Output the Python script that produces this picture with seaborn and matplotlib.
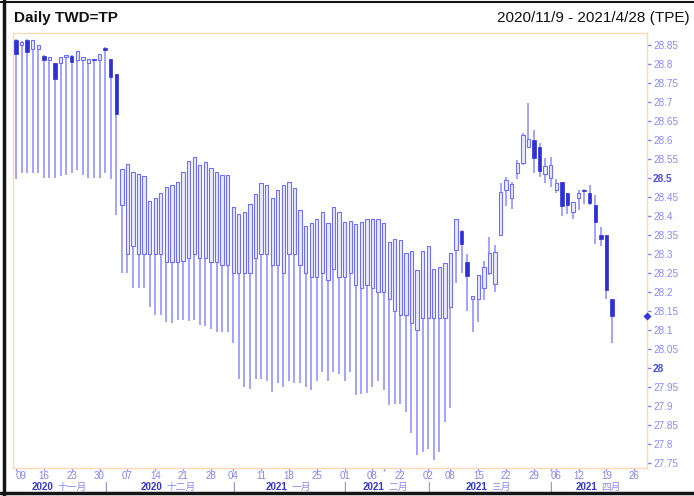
import numpy as np
import pandas as pd
import matplotlib
matplotlib.use("Agg")
import matplotlib.pyplot as plt
import matplotlib.transforms as mtransforms
from matplotlib.lines import Line2D
import seaborn as sns

# ---------------- data ----------------
opens = [28.862, 28.849, 28.862, 28.840, 28.840, 28.821, 28.809, 28.801, 28.801, 28.818,
         28.821, 28.810, 28.810, 28.801, 28.812, 28.810, 28.842, 28.812, 28.772, 28.428,
         28.298, 28.321, 28.298, 28.298, 28.298, 28.298, 28.298, 28.277, 28.277, 28.277,
         28.282, 28.290, 28.298, 28.290, 28.290, 28.277, 28.277, 28.270, 28.270, 28.250,
         28.250, 28.250, 28.250, 28.290, 28.298, 28.298, 28.270, 28.270, 28.250, 28.298,
         28.298, 28.270, 28.250, 28.238, 28.238, 28.250, 28.231, 28.260, 28.238, 28.238,
         28.250, 28.218, 28.210, 28.218, 28.210, 28.200, 28.200, 28.180, 28.149, 28.139,
         28.139, 28.118, 28.099, 28.130, 28.130, 28.130, 28.130, 28.130, 28.159, 28.310,
         28.361, 28.279, 28.180, 28.180, 28.209, 28.250, 28.220, 28.349, 28.469, 28.448,
         28.512, 28.540, 28.580, 28.599, 28.580, 28.510, 28.500, 28.469, 28.490, 28.459,
         28.410, 28.448, 28.469, 28.459, 28.428, 28.349, 28.349, 28.180]
highs = [28.865, 28.860, 28.864, 28.862, 28.849, 28.822, 28.817, 28.802, 28.819, 28.823,
         28.823, 28.833, 28.818, 28.812, 28.812, 28.826, 28.845, 28.812, 28.772, 28.522,
         28.535, 28.516, 28.510, 28.505, 28.440, 28.448, 28.461, 28.476, 28.480, 28.490,
         28.516, 28.545, 28.554, 28.533, 28.542, 28.526, 28.514, 28.507, 28.507, 28.424,
         28.404, 28.409, 28.430, 28.457, 28.486, 28.481, 28.446, 28.468, 28.481, 28.490,
         28.472, 28.415, 28.373, 28.380, 28.391, 28.410, 28.380, 28.422, 28.410, 28.384,
         28.387, 28.377, 28.383, 28.391, 28.391, 28.391, 28.380, 28.330, 28.338, 28.336,
         28.303, 28.307, 28.257, 28.307, 28.320, 28.259, 28.266, 28.275, 28.303, 28.391,
         28.363, 28.299, 28.189, 28.244, 28.282, 28.343, 28.323, 28.485, 28.501, 28.490,
         28.548, 28.618, 28.696, 28.626, 28.592, 28.551, 28.555, 28.498, 28.490, 28.459,
         28.435, 28.469, 28.470, 28.481, 28.455, 28.370, 28.349, 28.180]
lows = [28.498, 28.512, 28.513, 28.513, 28.512, 28.500, 28.500, 28.500, 28.505, 28.506,
        28.513, 28.520, 28.506, 28.500, 28.500, 28.500, 28.513, 28.498, 28.402, 28.248,
        28.248, 28.209, 28.209, 28.209, 28.161, 28.140, 28.140, 28.119, 28.118, 28.125,
        28.125, 28.124, 28.125, 28.112, 28.110, 28.101, 28.095, 28.094, 28.093, 28.066,
        27.971, 27.948, 27.943, 27.969, 27.970, 27.966, 27.936, 27.961, 27.948, 27.966,
        27.961, 27.959, 27.948, 27.940, 27.966, 27.990, 27.966, 27.990, 27.983, 27.966,
        27.990, 27.928, 27.931, 27.933, 27.948, 27.966, 27.941, 27.902, 27.904, 27.904,
        27.884, 27.829, 27.771, 27.778, 27.787, 27.758, 27.779, 27.856, 27.895, 28.224,
        28.250, 28.150, 28.095, 28.121, 28.178, 28.244, 28.200, 28.349, 28.426, 28.419,
        28.498, 28.533, 28.580, 28.512, 28.501, 28.485, 28.476, 28.461, 28.399, 28.404,
        28.391, 28.415, 28.431, 28.428, 28.326, 28.320, 28.180, 28.064]
closes = [28.825, 28.858, 28.830, 28.862, 28.849, 28.810, 28.817, 28.760, 28.819, 28.822,
          28.804, 28.833, 28.818, 28.812, 28.809, 28.826, 28.836, 28.766, 28.668, 28.522,
          28.535, 28.516, 28.510, 28.505, 28.440, 28.448, 28.461, 28.476, 28.480, 28.490,
          28.516, 28.545, 28.554, 28.533, 28.542, 28.526, 28.514, 28.507, 28.507, 28.424,
          28.404, 28.409, 28.430, 28.457, 28.486, 28.481, 28.446, 28.468, 28.481, 28.490,
          28.472, 28.415, 28.373, 28.380, 28.391, 28.410, 28.380, 28.422, 28.410, 28.384,
          28.387, 28.377, 28.383, 28.391, 28.391, 28.391, 28.380, 28.330, 28.338, 28.336,
          28.303, 28.307, 28.257, 28.307, 28.320, 28.259, 28.266, 28.275, 28.303, 28.391,
          28.326, 28.241, 28.188, 28.244, 28.264, 28.303, 28.305, 28.463, 28.494, 28.483,
          28.538, 28.612, 28.601, 28.553, 28.518, 28.530, 28.533, 28.487, 28.426, 28.428,
          28.435, 28.459, 28.466, 28.434, 28.383, 28.340, 28.204, 28.136]

# weekly ticks (trading-day index) and labels
tick_idx = [0, 5, 10, 15, 20, 25, 30, 35, 39, 44, 49, 54, 59, 64, 66, 69, 74, 78,
            83, 88, 93, 96, 97, 101, 106, 111]
tick_labels = ['09', '16', '23', '30', '07', '14', '21', '28', '04', '11', '18', '25',
               '01', '08', '', '22', '02', '08', '15', '22', '29', '', '06', '12', '19', '26']
month_years = ['2020', '2020', '2021', '2021', '2021', '2021']
month_names = ['十一月', '十二月', '一月', '二月', '三月', '四月']
month_centers = [7.7, 27.3, 48.8, 66.2, 84.7, 104.4]
month_seps = [16, 39, 59, 74, 96]
y_ticks = [round(27.75 + 0.05 * k, 2) for k in range(23)]

title_left = 'Daily TWD=TP'
title_right = '2020/11/9 - 2021/4/28 (TPE)'

# ---------------- style ----------------
sns.set_style('white')
plt.rcParams['font.family'] = ['Liberation Sans', 'Noto Sans CJK SC', 'DejaVu Sans']

W, H = 694, 496
fig = plt.figure(figsize=(W / 100, H / 100), dpi=100)
fig.patch.set_facecolor('white')
ax_l, ax_r, ax_t, ax_b = 13, 646.7, 33, 468
ax = fig.add_axes([ax_l / W, 1 - ax_b / H, (ax_r - ax_l) / W, (ax_b - ax_t) / H])

df = pd.DataFrame({'o': opens, 'h': highs, 'l': lows, 'c': closes})
df['i'] = np.arange(len(df))
df['up'] = df['c'] >= df['o']

wick_col = '#8a8aff'
up_edge = '#6e6eff'
up_face = '#ebebff'
dn_col = '#2f2fd6'

ax.vlines(df['i'], df['l'], df['h'], color=wick_col, lw=1.1, zorder=2)
up = df[df['up']]
dn = df[~df['up']]
ax.bar(up['i'], np.maximum(up['c'] - up['o'], 0.003), bottom=up['o'], width=0.6,
       facecolor=up_face, edgecolor=up_edge, linewidth=0.8, zorder=3)
ax.bar(dn['i'], np.maximum(dn['o'] - dn['c'], 0.003), bottom=dn['c'], width=0.6,
       facecolor=dn_col, edgecolor=dn_col, linewidth=0.5, zorder=3)

x_lo = (ax_l - 16) / 5.57
x_hi = (ax_r - 16) / 5.57
ax.set_xlim(x_lo, x_hi)
ax.set_ylim(27.736, 28.881)

# last price marker on the right edge
sns.scatterplot(x=[x_hi], y=[closes[-1]], marker='D', s=14, color='#3333dd',
                edgecolor='#3333dd', ax=ax, clip_on=False, zorder=6, legend=False)

for s in ax.spines.values():
    s.set_color('#ffd9b3')
    s.set_linewidth(1.0)

# y axis on right
ax.yaxis.tick_right()
ax.set_yticks(y_ticks)
ax.set_yticklabels([f'{v:g}' for v in y_ticks])
ax.tick_params(axis='y', which='major', direction='out', length=3, width=1,
               color='#8080ff', pad=1.5, labelsize=7.2, labelcolor='#8a8aff',
               right=True, left=False)
for lab, v in zip(ax.get_yticklabels(), y_ticks):
    if abs(v - 28.0) < 1e-6 or abs(v - 28.5) < 1e-6:
        lab.set_fontweight('bold')
        lab.set_color('#4a4ae0')

# x axis
ax.set_xticks(tick_idx)
ax.set_xticklabels(tick_labels)
ax.tick_params(axis='x', which='major', direction='out', length=2, width=1,
               color='#9090ff', pad=0.5, labelsize=7, labelcolor='#8484f0', bottom=True)
first = ax.get_xticklabels()[0]
first.set_transform(first.get_transform() +
                    mtransforms.ScaledTranslation(5 / 100, 0, fig.dpi_scale_trans))
ax.set_xlabel('')
ax.set_ylabel('')

# month row
trans = mtransforms.blended_transform_factory(ax.transData, ax.transAxes)
y_row = -(486.5 - ax_b) / (ax_b - ax_t)
for yr, mn, c in zip(month_years, month_names, month_centers):
    w_year = 22.0
    w_mon = 9.6 * len(mn)
    gap = 4.0
    total = w_year + gap + w_mon
    yr_right = -total / 2 + w_year
    ax.annotate(yr, xy=(c, y_row), xycoords=trans, xytext=(yr_right * 0.72, 0),
                textcoords='offset points', ha='right', va='center', fontsize=7,
                fontweight='bold', color='#3535cc', annotation_clip=False)
    ax.annotate(mn, xy=(c, y_row), xycoords=trans, xytext=((yr_right + gap) * 0.72, 0),
                textcoords='offset points', ha='left', va='center', fontsize=7,
                color='#8a8aee', annotation_clip=False)
for sp in month_seps:
    ax.text(sp, y_row, '|', transform=trans, ha='center', va='center', fontsize=7,
            color='#5a5ae6', clip_on=False)

# titles
fig.text(14 / W, 1 - 18 / H, title_left, fontsize=11, fontweight='bold',
         ha='left', va='center', color='#111111')
fig.text(690 / W, 1 - 18 / H, title_right, fontsize=11, ha='right', va='center',
         color='#111111')

# outer frame
fig.add_artist(Line2D([4 / W, 4 / W], [0, 1], transform=fig.transFigure,
                      color='#151515', lw=2.5))
fig.add_artist(Line2D([0, 1], [1 - 1.5 / H, 1 - 1.5 / H], transform=fig.transFigure,
                      color='#151515', lw=1.5))
fig.add_artist(Line2D([0, 1], [1 - 493 / H, 1 - 493 / H], transform=fig.transFigure,
                      color='#151515', lw=2.5))

fig.savefig('out.png', dpi=100)
